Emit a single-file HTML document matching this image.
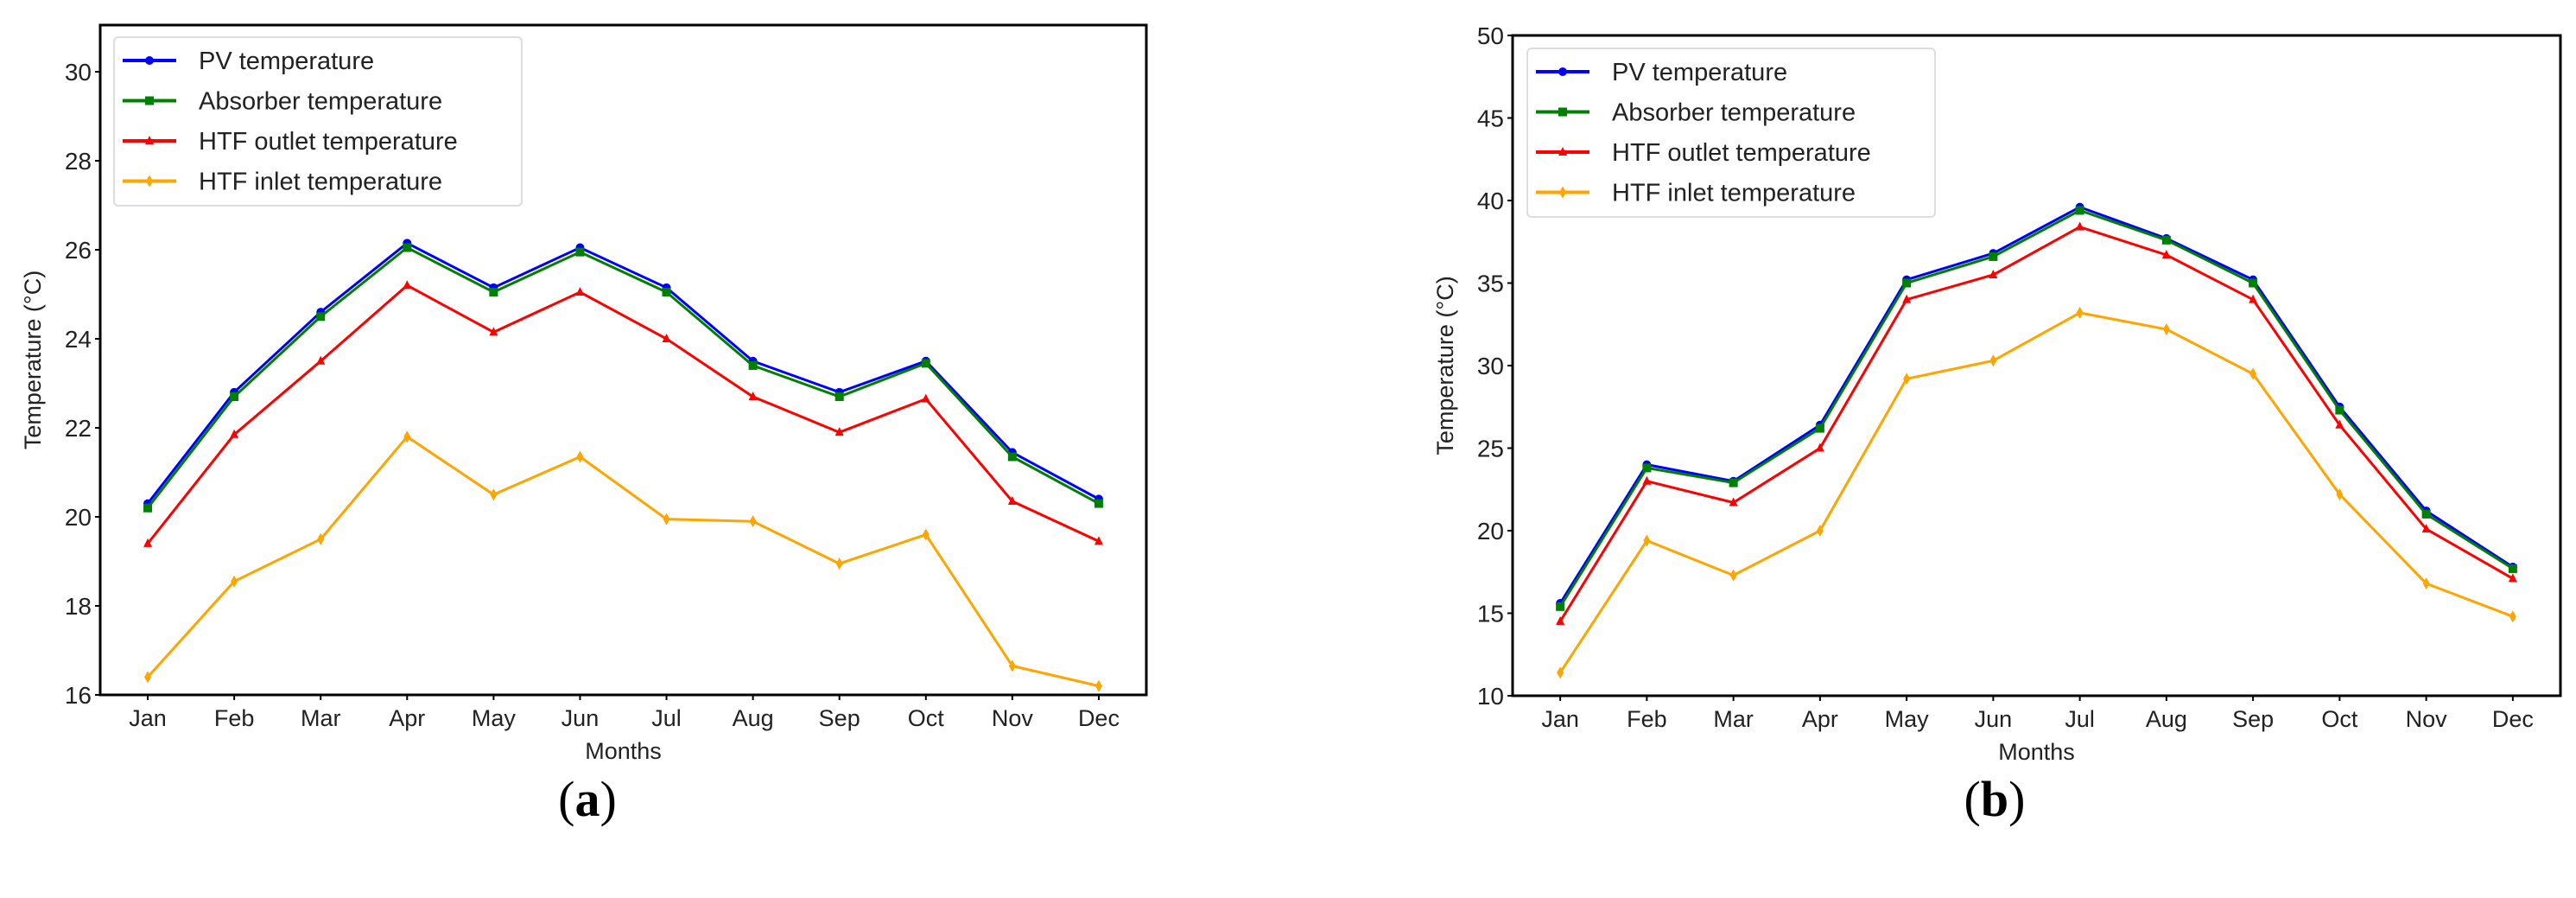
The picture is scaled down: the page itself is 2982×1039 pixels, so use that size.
<!DOCTYPE html>
<html><head><meta charset="utf-8"><style>
html,body{margin:0;padding:0;background:#fff;}
svg{display:block;font-family:"Liberation Sans",sans-serif;}
</style></head><body>
<svg id="fig" width="2982" height="1039" viewBox="0 0 2982 1039" xmlns="http://www.w3.org/2000/svg"></svg>
<script>
const months = ["Jan","Feb","Mar","Apr","May","Jun","Jul","Aug","Sep","Oct","Nov","Dec"];
const seriesNames = ["PV temperature","Absorber temperature","HTF outlet temperature","HTF inlet temperature"];
const aPV  = [20.3,22.8,24.6,26.15,25.15,26.05,25.15,23.5,22.8,23.5,21.45,20.4];
const aAbs = [20.2,22.7,24.5,26.05,25.05,25.95,25.05,23.4,22.7,23.45,21.35,20.3];
const aOut = [19.4,21.85,23.5,25.2,24.15,25.05,24.0,22.7,21.9,22.65,20.35,19.45];
const aIn  = [16.4,18.55,19.5,21.8,20.5,21.35,19.95,19.9,18.95,19.6,16.65,16.2];
const bPV  = [15.6,24.0,23.0,26.4,35.2,36.8,39.6,37.7,35.2,27.5,21.2,17.8];
const bAbs = [15.4,23.8,22.9,26.2,35.0,36.6,39.4,37.6,35.0,27.3,21.0,17.7];
const bOut = [14.5,23.0,21.7,25.0,34.0,35.5,38.4,36.7,34.0,26.4,20.1,17.1];
const bIn  = [11.4,19.4,17.3,20.0,29.2,30.3,33.2,32.2,29.5,22.2,16.8,14.8];
const aTicks = [16,18,20,22,24,26,28,30];
const bTicks = [10,15,20,25,30,35,40,45,50];

const NS="http://www.w3.org/2000/svg";
const svg=document.getElementById('fig');
function mk(tag,attrs,parent){const e=document.createElementNS(NS,tag);for(const k in attrs)e.setAttribute(k,attrs[k]);(parent||svg).appendChild(e);return e;}
const colors=["#0000ff","#008000","#ff0000","#ffa500"];
function marker(si,x,y,parent){
  if(si===0) return mk('circle',{cx:x,cy:y,r:5,fill:colors[si]},parent);
  if(si===1) return mk('rect',{x:x-5,y:y-5,width:10,height:10,fill:colors[si]},parent);
  if(si===2) return mk('polygon',{points:`${x},${y-6} ${x-5},${y+4} ${x+5},${y+4}`,fill:colors[si]},parent);
  return mk('polygon',{points:`${x},${y-7} ${x+4},${y} ${x},${y+7} ${x-4},${y}`,fill:colors[si]},parent);
}

function chart(cfg){
  const g=mk('g',{});
  
  
  const L=cfg.L,R=cfg.R,T=cfg.T,B=cfg.B;
  const xs=i=>L+(i+0.55)/12.1*(R-L);
  const ys=v=>B-(v-cfg.ymin)/(cfg.ymax-cfg.ymin)*(B-T);
  cfg.ticks.forEach(t=>{
    const y=ys(t);
    const tk=mk('line',{x1:L-6,x2:L,y1:y,y2:y,stroke:'#000','stroke-width':2},g);
    
    
    const tx=mk('text',{x:L-10,y:y+10,'text-anchor':'end','font-size':28,fill:'#222'},g);
    tx.textContent=t;
    
    
  });
  months.forEach((m,i)=>{
    const x=xs(i);
    const tk=mk('line',{x1:x,x2:x,y1:B,y2:B+6,stroke:'#000','stroke-width':2},g);
    
    
    const tx=mk('text',{x:x,y:B+36,'text-anchor':'middle','font-size':27,fill:'#222'},g);
    tx.textContent=m;
    
    
  });
  cfg.series.forEach((d,si)=>{
    const pts=d.map((v,i)=>xs(i).toFixed(1)+','+ys(v).toFixed(1)).join(' ');
    const pl=mk('polyline',{points:pts,fill:'none',stroke:colors[si],'stroke-width':3},g);
    
    
    d.forEach((v,i)=>{
      const mkr=marker(si,xs(i),ys(v),g);
      
      
    });
  });
  const fr=mk('rect',{x:L,y:T,width:R-L,height:B-T,fill:'none',stroke:'#000','stroke-width':3},g);
  
  
  const lg=mk('g',{},g);
  
  
  mk('rect',{x:cfg.lx,y:cfg.ly,width:cfg.lw,height:195,rx:5,fill:'#fff',stroke:'#ddd','stroke-width':2},lg);
  seriesNames.forEach((n,si)=>{
    const y=cfg.ly+27+si*46.5;
    const e=mk('g',{},lg);
    
    
    mk('line',{x1:cfg.lx+10,x2:cfg.lx+72,y1:y,y2:y,stroke:colors[si],'stroke-width':4},e);
    marker(si,cfg.lx+41,y,e);
    const t=mk('text',{x:cfg.lx+98,y:y+10,'font-size':29,fill:'#222'},e);
    t.textContent=n;
  });
  const yl=mk('text',{x:0,y:0,transform:`translate(${cfg.ylx},${(T+B)/2}) rotate(-90)`,'text-anchor':'middle','font-size':27,fill:'#222'},g);
  yl.textContent='Temperature (°C)';
  
  
  const xl=mk('text',{x:(L+R)/2,y:B+74,'text-anchor':'middle','font-size':27,fill:'#222'},g);
  xl.textContent='Months';
  
  
  const cap=mk('text',{x:cfg.capx,y:944,'text-anchor':'middle','font-size':58,'font-family':'Liberation Serif, serif',fill:'#000'},g);
  cap.innerHTML='(<tspan font-weight="bold">'+cfg.cap+'</tspan>)';
  
  
}
chart({name:'chart-a',L:116,R:1327,T:29,B:804,ymin:16,ymax:31.05,ticks:aTicks,series:[aPV,aAbs,aOut,aIn],lx:132,ly:43,lw:472,ylx:47,capx:680,cap:'a'});
chart({name:'chart-b',L:1751,R:2964,T:41,B:805,ymin:10,ymax:50,ticks:bTicks,series:[bPV,bAbs,bOut,bIn],lx:1768,ly:56,lw:472,ylx:1682,capx:2309,cap:'b'});
</script>
</body></html>
